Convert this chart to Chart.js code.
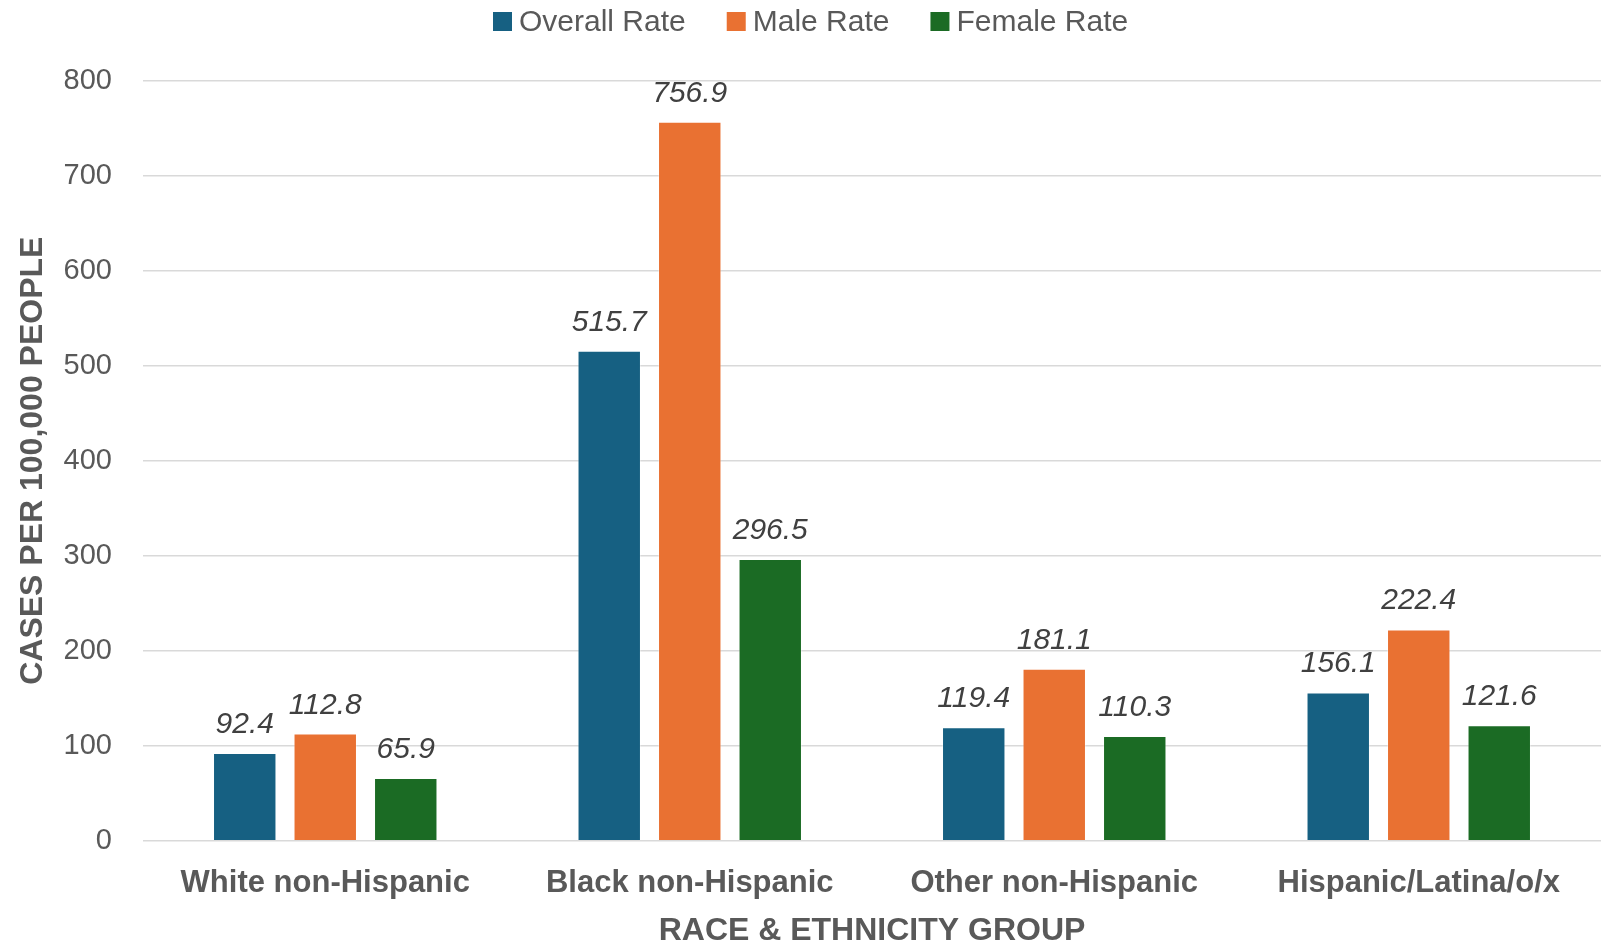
<!DOCTYPE html>
<html>
<head>
<meta charset="utf-8">
<title>Cases per 100,000 people by race & ethnicity group</title>
<script src="https://cdn.jsdelivr.net/npm/chart.js@4.4.1/dist/chart.umd.min.js"></script>
<style>
  html, body { margin: 0; padding: 0; background: #ffffff; }
  #wrap { width: 1608px; height: 944px; }
</style>
</head>
<body>
<div id="wrap"><canvas id="chart" width="1608" height="944"></canvas></div>
<script>
// Rates per 100,000 people
const categories = ['White non-Hispanic', 'Black non-Hispanic', 'Other non-Hispanic', 'Hispanic/Latina/o/x'];
const overallRate = [92.4, 515.7, 119.4, 156.1];
const maleRate    = [112.8, 756.9, 181.1, 222.4];
const femaleRate  = [65.9, 296.5, 110.3, 121.6];
const seriesNames = ['Overall Rate', 'Male Rate', 'Female Rate'];
const yTicks = [0, 100, 200, 300, 400, 500, 600, 700, 800];

const COLORS = ['#166082', '#E97132', '#1B6B24'];
const TEXT = '#595959';
const FONT = "'Liberation Sans', Arial, sans-serif";

// Layout metrics (pixels)
const PLOT_LEFT = 143;
const PLOT_TOP = 80.7;
const X_AXIS_H = 103.3;

// Legend row metrics (pixels)
const LEGEND = { x: 493, boxTop: 12, box: 19, textGap: 7, itemGap: 41, baseline: 30.5, size: 30 };

// Value labels written above each bar
const valueLabels = {
  id: 'valueLabels',
  afterDatasetsDraw(chart) {
    const ctx = chart.ctx;
    ctx.save();
    ctx.font = 'italic 30px ' + FONT;
    ctx.fillStyle = '#404040';
    ctx.textAlign = 'center';
    ctx.textBaseline = 'alphabetic';
    chart.data.datasets.forEach((ds, i) => {
      const meta = chart.getDatasetMeta(i);
      meta.data.forEach((bar, j) => {
        ctx.fillText(ds.data[j].toFixed(1), bar.x, bar.y - 20);
      });
    });
    ctx.restore();
  }
};

// Series key drawn in one row across the top band
const seriesKey = {
  id: 'seriesKey',
  afterDraw(chart) {
    const ctx = chart.ctx;
    ctx.save();
    ctx.font = LEGEND.size + 'px ' + FONT;
    ctx.textAlign = 'left';
    ctx.textBaseline = 'alphabetic';
    let x = LEGEND.x;
    chart.data.datasets.forEach((ds) => {
      ctx.fillStyle = ds.backgroundColor;
      ctx.fillRect(x, LEGEND.boxTop, LEGEND.box, LEGEND.box);
      const tx = x + LEGEND.box + LEGEND.textGap;
      ctx.fillStyle = TEXT;
      ctx.fillText(ds.label, tx, LEGEND.baseline);
      x = tx + ctx.measureText(ds.label).width + LEGEND.itemGap;
    });
    ctx.restore();
  }
};

const values = [overallRate, maleRate, femaleRate];

new Chart(document.getElementById('chart'), {
  type: 'bar',
  data: {
    labels: categories,
    datasets: seriesNames.map((name, i) => ({
      label: name,
      data: values[i],
      backgroundColor: COLORS[i],
      borderColor: 'rgba(255,255,255,0.35)',
      borderWidth: 1,
      categoryPercentage: 0.6626,
      barPercentage: 0.788
    }))
  },
  options: {
    responsive: false,
    animation: false,
    devicePixelRatio: 1,
    layout: { padding: { top: PLOT_TOP, left: 0, right: 7, bottom: 0 } },
    plugins: {
      tooltip: { enabled: false },
      legend: { display: false }
    },
    scales: {
      x: {
        grid: { display: false },
        border: { display: false },
        ticks: {
          color: TEXT,
          padding: 16,
          font: { family: FONT, size: 31, weight: 'bold' }
        },
        title: {
          display: true,
          text: 'RACE & ETHNICITY GROUP',
          color: TEXT,
          padding: { top: 0, bottom: -3.5 },
          font: { family: FONT, size: 32, weight: 'bold', lineHeight: 1 }
        },
        afterFit(scale) { scale.height = X_AXIS_H; }
      },
      y: {
        min: yTicks[0],
        max: yTicks[yTicks.length - 1],
        afterBuildTicks(scale) { scale.ticks = yTicks.map(v => ({ value: v })); },
        grid: { color: '#d9d9d9', lineWidth: 1.5, drawTicks: false },
        border: { display: false },
        ticks: {
          color: TEXT,
          padding: 31,
          font: { family: FONT, size: 29 }
        },
        title: {
          display: true,
          text: 'CASES PER 100,000 PEOPLE',
          color: TEXT,
          padding: { top: 14, bottom: 0 },
          font: { family: FONT, size: 32, weight: 'bold' }
        },
        afterFit(scale) { scale.width = PLOT_LEFT; }
      }
    }
  },
  plugins: [valueLabels, seriesKey]
});
</script>
</body>
</html>
